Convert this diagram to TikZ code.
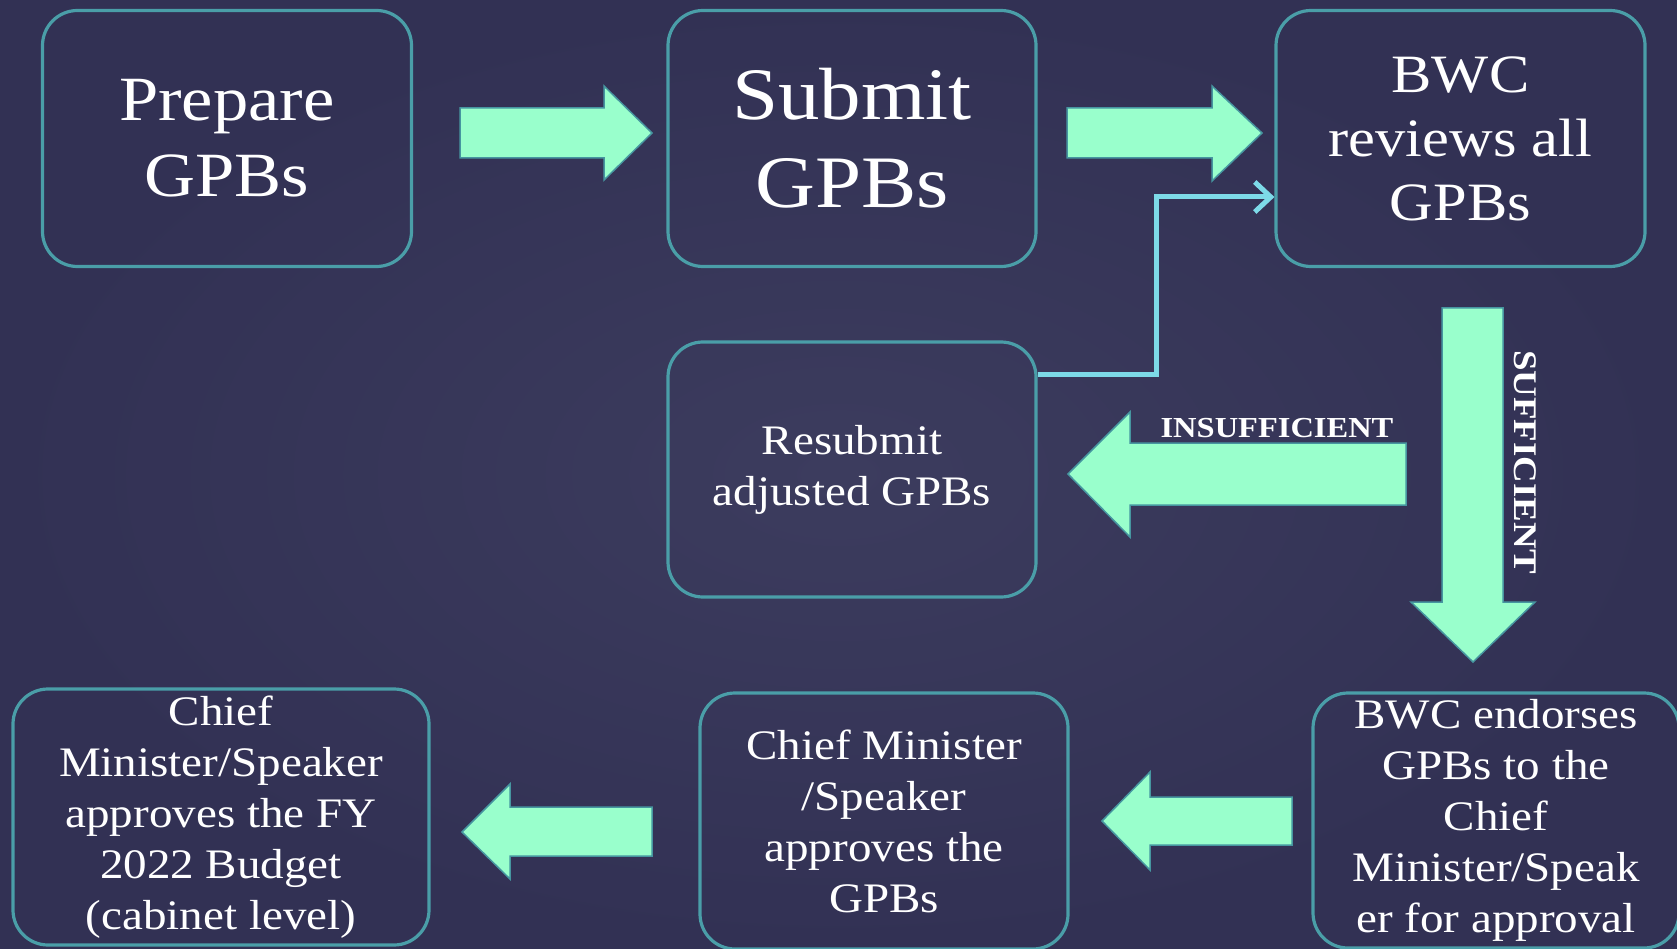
\documentclass[tikz,border=0pt]{standalone}
\usepackage{fontspec}
\setmainfont[FakeStretch=1.12]{Liberation Serif}
\usetikzlibrary{arrows.meta}
\definecolor{bgc}{RGB}{50,49,84}
\definecolor{bgin}{RGB}{60,60,94}
\definecolor{boxline}{RGB}{74,158,168}
\definecolor{mint}{RGB}{153,255,204}
\definecolor{arrline}{RGB}{70,150,160}
\definecolor{connc}{RGB}{125,218,232}
\tikzset{
  stepbox/.style={draw=boxline, line width=3.2pt, rounded corners=35pt, text=white, align=center, inner sep=0pt},
  blockarrow/.style={fill=mint, draw=arrline, line width=1.5pt, line join=miter},
  conn/.style={draw=connc, line width=5pt, -{Straight Barb[length=16pt,width=30pt,line width=5pt]}},
  lbl/.style={text=white, font=\fontsize{29}{34}\selectfont\bfseries}
}
\begin{document}
\begin{tikzpicture}[x=1pt,y=-1pt]
\useasboundingbox (0,0) rectangle (1677,949);
\shade[inner color=bgin, outer color=bgc] (0,0) rectangle (1677,949);

\node[stepbox, minimum width=369pt, minimum height=256pt, font=\fontsize{63}{76}\selectfont] (prep) at (227,138.5) {Prepare\\GPBs};
\node[stepbox, minimum width=368pt, minimum height=256pt, font=\fontsize{74}{88}\selectfont] (sub) at (852,138.5) {Submit\\GPBs};
\node[stepbox, minimum width=369pt, minimum height=256pt, font=\fontsize{54}{64}\selectfont] (rev) at (1460.5,138.5) {BWC\\reviews all\\GPBs};
\node[stepbox, minimum width=368pt, minimum height=255pt, font=\fontsize{42}{51}\selectfont] (resub) at (852,469.5) {Resubmit\\adjusted GPBs};
\node[stepbox, minimum width=416pt, minimum height=256pt, font=\fontsize{42}{51}\selectfont] (cab) at (221,817) {Chief\\Minister/Speaker\\approves the FY\\2022 Budget\\(cabinet level)};
\node[stepbox, minimum width=368pt, minimum height=256pt, font=\fontsize{42}{51}\selectfont] (cm) at (884,821) {Chief Minister\\/Speaker\\approves the\\GPBs};
\node[stepbox, minimum width=366pt, minimum height=255pt, font=\fontsize{42}{51}\selectfont] (end) at (1496,820.5) {BWC endorses\\GPBs to the\\Chief\\Minister/Speak\\er for approval};

% block arrows
\draw[blockarrow] (460,108) -- (604,108) -- (604,86) -- (652,133) -- (604,180) -- (604,158) -- (460,158) -- cycle;
\draw[blockarrow] (1067,108) -- (1212,108) -- (1212,86) -- (1262,133) -- (1212,181) -- (1212,158) -- (1067,158) -- cycle;
\draw[blockarrow] (1406,443) -- (1130,443) -- (1130,412) -- (1068,474) -- (1130,537) -- (1130,505) -- (1406,505) -- cycle;
\draw[blockarrow] (1442,308) -- (1503,308) -- (1503,602) -- (1535,602) -- (1473,662) -- (1411,602) -- (1442,602) -- cycle;
\draw[blockarrow] (1292,797) -- (1150,797) -- (1150,772) -- (1102,821) -- (1150,870) -- (1150,845) -- (1292,845) -- cycle;
\draw[blockarrow] (652,807) -- (510,807) -- (510,784) -- (462,832) -- (510,879) -- (510,856) -- (652,856) -- cycle;

\node[lbl, anchor=base] (insuf) at (1277,437) {INSUFFICIENT};
\node[lbl, rotate=-90, font=\fontsize{33}{38}\selectfont\bfseries] (suf) at (1525,462) {SUFFICIENT};

% connector
\coordinate (c1) at (1156,374);
\coordinate (c2) at (1156,197);
\draw[conn] (resub.east |- c1) -- (c1) -- (c2) -- (rev.west |- c2);
\end{tikzpicture}
\end{document}
